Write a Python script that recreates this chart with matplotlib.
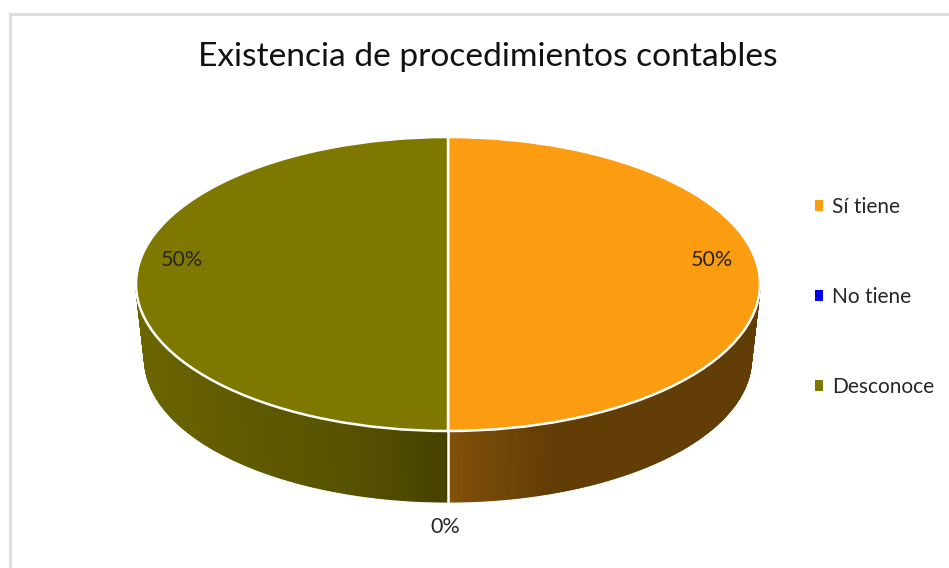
import numpy as np
import matplotlib
matplotlib.use('Agg')
import matplotlib.pyplot as plt
from matplotlib.patches import Patch, Rectangle

categories = ['Sí tiene', 'No tiene', 'Desconoce']
values = [50, 0, 50]
colors = ['#fc9c10', '#0000f0', '#7f7800']
title = 'Existencia de procedimientos contables'

W, H = 949, 568
plt.rcParams['font.family'] = ['Lato', 'DejaVu Sans']

fig = plt.figure(figsize=(W / 100, H / 100), dpi=100)

# marco del grafico: solo se ven los lados izquierdo y superior
fig.add_artist(Rectangle((10 / W, -0.1), 1.1, 1.1 - 14 / H, fill=False,
                         edgecolor='#dcdcdc', linewidth=2, transform=fig.transFigure))

# eje del pastel: radio 1 = 312 px en x, 147 px en y (centro en 448, 284)
cx, cy, rx, ry = 448, 284, 312, 147
ax = fig.add_axes([(cx - rx) / W, 1 - (cy + ry) / H, 2 * rx / W, 2 * ry / H])
wedges, _ = ax.pie(values, colors=colors, startangle=90, counterclock=False, radius=1,
                   wedgeprops={'edgecolor': 'white', 'linewidth': 1.8})
ax.set_aspect('auto')
ax.set_xlim(-1, 1)
ax.set_ylim(-1, 1)

# pared lateral, solo la parte de enfrente (-180 a 0 grados)
depth = 0.51
shrink = 0.972
shade_x = [[0, 0.12, 0.35, 1], [-1, 0], [-1, -0.6, -0.3, 0]]
shade_f = [[0.53, 0.47, 0.39, 0.39], [0.5, 0.5], [0.84, 0.74, 0.68, 0.55]]

for w, col, sx, sf in zip(wedges, colors, shade_x, shade_f):
    t1, t2 = max(w.theta1, -180), min(w.theta2, 0)
    if t2 <= t1:
        continue
    base = np.array(matplotlib.colors.to_rgb(col))
    edges = np.radians(np.arange(t1, t2 + 0.5, 0.5))
    for a, b in zip(edges[:-1], edges[1:]):
        xs = [np.cos(a), np.cos(b), shrink * np.cos(b), shrink * np.cos(a)]
        ys = [np.sin(a), np.sin(b), shrink * np.sin(b) - depth, shrink * np.sin(a) - depth]
        f = np.interp((np.cos(a) + np.cos(b)) / 2, sx, sf)
        ax.fill(xs, ys, color=base * f, linewidth=1.0, zorder=0.5, clip_on=False)

# separador blanco de la pared
for w in wedges:
    if w.theta2 > w.theta1 and -180 < w.theta1 < 0:
        a = np.radians(w.theta1)
        ax.plot([np.cos(a), shrink * np.cos(a)], [np.sin(a), shrink * np.sin(a) - depth],
                color='white', linewidth=1.8, zorder=0.6, clip_on=False)

# etiquetas de porcentaje
label_x = [0.846, -0.01, -0.854]
label_y = [0.165, -1.65, 0.165]
total = sum(values)
for v, lx, ly in zip(values, label_x, label_y):
    ax.text(lx, ly, f'{v / total:.0%}', ha='center', va='center', fontsize=15.5,
            color='#262626', clip_on=False)

fig.text(487.5 / W, 1 - 57 / H, title, ha='center', va='center', fontsize=24.1, color='#111111')

handles = [Patch(facecolor=c, edgecolor='none') for c in colors]
fig.legend(handles, categories, loc='center left', bbox_to_anchor=(796 / W, 1 - 297 / H),
           frameon=False, fontsize=15, labelspacing=3.35, handlelength=0.4, handleheight=0.4,
           handletextpad=0.43, labelcolor='#262626')

fig.savefig('out.png', dpi=100)
